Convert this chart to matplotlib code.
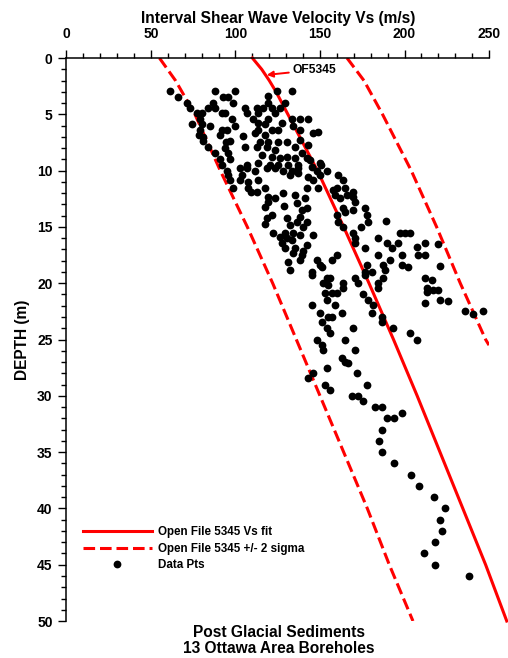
import matplotlib
matplotlib.use("Agg")
import matplotlib.pyplot as plt
from matplotlib.ticker import MultipleLocator

plt.rcParams['font.family'] = ['Liberation Sans', 'DejaVu Sans']
plt.rcParams['font.weight'] = 'bold'

# OF5345 Vs fit and +/- 2 sigma curves
fit_depth = [0, 1, 2, 3, 5, 10, 15, 20, 25, 30, 35, 40, 45, 50]
fit_vs = [110, 115.5, 120, 124, 131, 148.5, 164, 179, 193.5, 207.5, 221, 234.5, 248, 260.5]
low_depth = [0, 2, 5, 10, 15, 20, 25, 30, 35, 40, 45, 50]
low_vs = [55, 64.5, 76, 91, 107, 122, 136, 150, 164, 178, 191, 205]
high_depth = [0, 2, 5, 10, 15, 20, 25, 25.5]
high_vs = [166, 176, 187, 204, 219, 233, 248, 250]

# borehole data points
data_vs = [
    61.2, 66.0, 71.3, 73.1, 77.2, 80.2, 74.3, 79.0, 80.2, 79.0, 80.8, 78.4, 80.8, 83.7,
    87.9, 90.8, 92.0, 95.0, 95.6, 96.7, 98.5, 84.9, 87.9, 86.7, 83.7, 87.9, 92.6, 95.6,
    99.7, 98.5, 92.0, 93.8, 97.9, 99.7, 92.0, 90.8, 95.0, 94.4, 93.8, 95.6, 96.7, 96.7,
    124.6, 119.2, 133.4, 119.2, 129.3, 105.6, 112.7, 116.3, 106.8, 113.3, 121.6, 123.4,
    126.3, 119.2, 110.4, 113.3, 117.5, 133.4, 138.2, 142.9, 134.0, 145.9, 148.8, 113.3,
    111.5, 121.6, 125.1, 117.5, 104.4, 114.5, 119.2, 125.1, 130.5, 105.6, 112.7, 118.6,
    123.4, 135.2, 139.3, 115.7, 121.6, 126.3, 130.5, 135.2, 142.3, 150.0, 106.8, 113.3,
    120.4, 125.1, 131.1, 137.0, 145.3, 127.5, 138.2, 138.2, 142.9, 144.1,
    102.7, 106.8, 111.5, 118.6, 123.4, 128.1, 133.4, 137.0, 102.7, 107.4, 107.4, 112.7,
    117.5, 119.2, 123.4, 128.1, 135.2, 119.2, 128.7, 136.4, 141.1, 142.3, 139.3, 118.6,
    121.6, 117.5, 122.2, 130.5, 138.2, 136.4, 132.2, 134.0, 129.3, 126.3, 130.5, 133.4,
    127.5, 138.2, 139.9, 142.3, 145.9, 142.3, 139.9, 135.2, 129.3, 113.3, 132.2, 137.0,
    142.9, 145.9, 150.0, 142.3, 148.8, 154.1, 148.2, 117.5, 103.6, 109.4,
    131.1, 138.2, 132.2, 139.3, 134.0, 148.2, 151.2, 145.3, 157.1, 160.1, 154.1, 150.0,
    150.6, 160.7, 163.6, 157.7, 160.1, 164.8, 158.9, 161.8, 166.0, 169.5, 169.5, 170.7,
    163.6, 164.8, 169.5, 176.6, 177.8, 178.4, 160.1, 160.7, 163.6, 169.5, 174.3, 170.7,
    170.7, 189.1, 197.3, 200.3, 203.3, 184.3, 189.6, 192.6, 196.2, 207.4, 212.1, 219.8,
    176.6, 184.3, 191.4, 198.5, 198.5, 202.1, 208.0, 212.1, 221.0, 177.8,
    145.3, 151.8, 155.9, 154.7, 163.6, 163.6, 153.0, 157.1, 160.1, 154.1, 158.9, 145.3,
    150.0, 163.0, 154.7, 157.1, 151.2, 154.1, 155.9, 169.5, 148.2, 151.2, 151.8, 164.8,
    170.7, 163.0, 164.8, 166.6, 154.1, 171.9, 145.9, 142.9, 153.0, 155.9, 177.8, 169.0,
    172.5, 175.4, 182.5, 186.7, 198.5, 193.8, 189.6, 186.7, 184.9, 186.7,
    170.7, 176.6, 172.5, 187.3, 184.3, 184.3, 175.4, 178.4, 181.4, 180.8, 186.7, 186.7,
    193.2, 203.3, 207.4, 212.1, 216.3, 213.3, 213.3, 216.9, 219.8, 212.1, 221.0, 225.7,
    235.8, 240.5, 246.4, 176.6, 180.8, 187.3, 188.5,
    193.8, 203.8, 208.6, 217.5, 224.0, 221.0, 222.2, 218.0, 211.5, 218.0, 238.2,
]
data_depth = [
    2.9, 3.5, 4.0, 4.4, 4.9, 4.9, 5.9, 5.4, 5.9, 6.4, 7.0, 6.8, 7.4, 7.9,
    8.4, 9.0, 9.5, 10.0, 10.4, 10.8, 11.5, 6.0, 2.9, 4.0, 4.4, 4.4, 3.5, 3.5,
    2.9, 4.0, 4.9, 4.9, 5.4, 6.0, 6.4, 6.8, 6.4, 7.5, 8.0, 8.4, 9.0, 7.4,
    2.9, 3.4, 2.9, 4.0, 4.0, 4.4, 4.4, 4.4, 4.9, 4.9, 4.4, 4.9,
    4.4, 5.4, 5.4, 5.8, 5.9, 5.4, 5.4, 5.4, 6.0, 6.7, 6.6, 6.4,
    6.7, 6.4, 6.4, 6.8, 6.9, 7.5, 7.5, 7.5, 7.5, 7.9, 7.9, 7.9,
    8.2, 7.9, 8.4, 8.6, 8.8, 8.9, 8.8, 8.9, 8.9, 9.3, 9.5, 9.3,
    9.5, 9.5, 9.5, 9.5, 9.7, 5.8, 6.4, 7.3, 7.7, 9.1,
    9.8, 9.8, 10.0, 9.8, 9.8, 10.0, 10.0, 9.8, 10.8, 11.0, 11.5, 11.9,
    11.5, 12.3, 12.4, 12.0, 12.2, 12.8, 13.1, 12.9, 12.4, 13.3, 13.5, 14.2,
    13.9, 14.7, 15.5, 14.2, 14.1, 14.6, 14.8, 15.5, 15.5, 15.9, 16.0, 16.2,
    16.4, 15.7, 15.0, 14.6, 15.7, 16.6, 17.1, 16.9, 16.9, 10.8, 10.4, 10.2,
    10.6, 10.8, 10.4, 11.5, 11.5, 10.0, 10.0, 13.2, 10.4, 11.9,
    18.1, 17.9, 18.8, 17.5, 17.3, 17.9, 18.6, 19.0, 17.9, 17.5, 19.5, 18.4,
    9.5, 10.4, 10.8, 11.7, 11.5, 11.5, 12.2, 12.4, 12.2, 11.9, 12.3, 12.8,
    13.3, 13.7, 13.5, 13.3, 13.9, 14.6, 13.9, 14.6, 15.0, 15.5, 15.0, 16.0,
    16.4, 14.5, 15.5, 15.5, 15.5, 16.0, 16.4, 16.9, 16.4, 16.8, 16.4, 16.5,
    16.9, 17.5, 17.9, 17.5, 18.4, 18.6, 17.5, 17.5, 18.5, 18.4,
    19.3, 20.0, 19.5, 20.2, 20.0, 20.4, 20.9, 20.9, 20.9, 21.5, 21.9, 21.9,
    22.6, 22.6, 23.0, 23.0, 23.4, 24.0, 24.4, 24.0, 25.0, 25.5, 25.9, 25.0,
    25.9, 26.6, 27.0, 27.1, 27.5, 28.0, 28.0, 28.4, 29.0, 29.5, 29.0, 30.0,
    30.0, 30.5, 31.0, 31.0, 31.5, 32.0, 32.0, 33.0, 34.0, 35.0,
    19.5, 19.3, 20.0, 19.5, 20.0, 20.4, 21.0, 21.5, 21.9, 22.6, 23.0, 23.4,
    24.0, 24.4, 25.0, 19.5, 19.7, 20.4, 20.8, 20.6, 20.6, 21.8, 21.5, 21.6,
    22.5, 22.7, 22.5, 19.0, 19.0, 18.4, 18.8,
    36.0, 37.0, 38.0, 39.0, 40.0, 41.0, 42.0, 43.0, 44.0, 45.0, 46.0,
]

fig = plt.figure(figsize=(5.08, 6.58), dpi=100)
ax = fig.add_axes([0.1309, 0.0562, 0.8317, 0.8556])

ax.plot(fit_vs, fit_depth, color='#ff0000', lw=2.2, clip_on=False,
        label='Open File 5345 Vs fit')
ax.plot(low_vs, low_depth, color='#ff0000', lw=2.2, ls=(0, (3.8, 1.6)),
        label='Open File 5345 +/- 2 sigma')
ax.plot(high_vs, high_depth, color='#ff0000', lw=2.2, ls=(0, (3.8, 1.6)))
ax.plot(data_vs, data_depth, 'o', color='black', ms=5.6, mew=0, label='Data Pts')

ax.annotate('OF5345', xy=(118.5, 1.5), xytext=(134, 1.05), ha='left', va='center',
            fontsize=8.7, fontweight='bold',
            arrowprops=dict(arrowstyle='-|>', color='#ff0000', lw=1.4,
                            shrinkA=1, shrinkB=0, mutation_scale=9))

ax.set_xlim(0, 250)
ax.set_ylim(50, 0)
ax.xaxis.tick_top()
ax.xaxis.set_label_position('top')
ax.spines['right'].set_visible(False)
ax.spines['bottom'].set_visible(False)
for s in ('left', 'top'):
    ax.spines[s].set_linewidth(1.1)
ax.xaxis.set_major_locator(MultipleLocator(50))
ax.xaxis.set_minor_locator(MultipleLocator(10))
ax.yaxis.set_major_locator(MultipleLocator(5))
ax.yaxis.set_minor_locator(MultipleLocator(1))
ax.tick_params(which='major', length=6, width=1.0, labelsize=10)
ax.tick_params(which='minor', length=3.5, width=1.0)
ax.tick_params(axis='x', which='major', pad=6)
ax.tick_params(axis='y', which='major', pad=4)

ax.set_xlabel('Interval Shear Wave Velocity Vs (m/s)', fontsize=11.2, fontweight='bold', labelpad=3)
ax.set_ylabel('DEPTH (m)', fontsize=11.2, fontweight='bold', labelpad=5)

ax.legend(loc='upper left', bbox_to_anchor=(0.1634, 0.2), bbox_transform=fig.transFigure,
          frameon=False, fontsize=8.4, handlelength=5.9, handletextpad=0.5,
          labelspacing=0.39, borderpad=0, borderaxespad=0)

fig.text(0.549, 0.027, 'Post Glacial Sediments\n13 Ottawa Area Boreholes',
         ha='center', va='center', fontsize=11.2, fontweight='bold', linespacing=1.1)

fig.savefig('out.png', dpi=100)
